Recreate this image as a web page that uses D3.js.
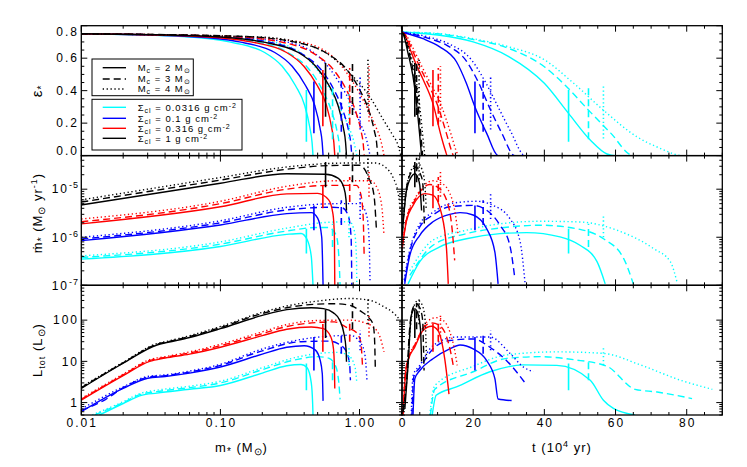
<!DOCTYPE html>
<html><head><meta charset="utf-8">
<script src="https://cdn.jsdelivr.net/npm/d3@7"></script>
<style>
body{margin:0;background:#fff;}
svg{display:block;font-family:"Liberation Sans",Arial,Helvetica,sans-serif;}
</style></head><body>
<svg id="c" width="747" height="467"></svg>
<script>
// ---------------- DATA ----------------
const sigmaValues = ["0.0316","0.1","0.316","1"];
const sigmaColors = ["#00ffff","#0000ff","#ff0000","#000000"];
const mcValues = ["2","3","4"];
const curveIds = ["C2","C3","C4","B2","B3","B4","R2","R3","R4","K2","K3","K4"];

// epsilon vs stellar mass
const epsVsMass = [
 [[0.01,.75],[0.05,.735],[0.116,.70],[0.208,.635],[0.278,.55],[0.347,.43],[0.403,.31],[0.44,.17],[0.456,.08],[0.463,0]],
 [[0.01,.75],[0.0725,.735],[0.181,.70],[0.326,.62],[0.435,.53],[0.544,.40],[0.631,.27],[0.689,.15],[0.714,.07],[0.725,0]],
 [[0.01,.75],[0.0956,.73],[0.239,.70],[0.42,.60],[0.574,.45],[0.717,.30],[0.832,.18],[0.908,.09],[0.956,0]],
 [[0.01,.75],[0.055,.735],[0.137,.70],[0.246,.635],[0.328,.55],[0.41,.43],[0.476,.31],[0.52,.17],[0.539,.08],[0.547,0]],
 [[0.01,.75],[0.088,.735],[0.22,.70],[0.396,.62],[0.528,.53],[0.66,.40],[0.766,.27],[0.836,.15],[0.867,.07],[0.88,0]],
 [[0.01,.75],[0.119,.73],[0.298,.70],[0.524,.60],[0.714,.45],[0.893,.30],[1.035,.18],[1.13,.09],[1.19,0]],
 [[0.01,.75],[0.066,.735],[0.166,.70],[0.299,.635],[0.398,.55],[0.498,.43],[0.578,.31],[0.631,.17],[0.654,.08],[0.664,0]],
 [[0.01,.75],[0.108,.735],[0.27,.70],[0.486,.62],[0.648,.53],[0.81,.40],[0.94,.27],[1.026,.15],[1.064,.07],[1.08,0]],
 [[0.01,.75],[0.15,.73],[0.375,.70],[0.66,.60],[0.90,.45],[1.125,.30],[1.305,.18],[1.425,.09],[1.5,0]],
 [[0.01,.75],[0.08,.735],[0.2,.70],[0.363,.635],[0.484,.55],[0.605,.43],[0.70,.31],[0.766,.17],[0.794,.08],[0.806,0]],
 [[0.01,.75],[0.135,.735],[0.338,.70],[0.608,.62],[0.81,.53],[1.01,.40],[1.175,.27],[1.28,.15],[1.33,.07],[1.35,0]],
 [[0.01,.75],[0.198,.73],[0.495,.66],[0.87,.50],[1.19,.36],[1.485,.22],[1.72,.13],[1.88,.07],[1.98,0]]
];

// accretion rate vs stellar mass
const mdotVsMass = [
 [[0.01,3.5e-7],[0.1,6.4e-7],[0.3,1.15e-6],[0.38,1.2e-6],[0.42,9e-7],[0.45,4e-7],[0.463,1e-7]],
 [[0.01,3.8e-7],[0.1,7.2e-7],[0.3,1.35e-6],[0.5,1.6e-6],[0.6,1.6e-6],[0.68,1.1e-6],[0.71,4e-7],[0.725,1e-7]],
 [[0.01,4.1e-7],[0.1,8e-7],[0.3,1.55e-6],[0.6,2.05e-6],[0.85,2.1e-6],[0.92,1.3e-6],[0.95,4e-7],[0.956,1e-7]],
 [[0.01,8.5e-7],[0.1,1.8e-6],[0.3,3.1e-6],[0.45,3.25e-6],[0.5,2.5e-6],[0.535,1e-6],[0.547,1e-7]],
 [[0.01,9.2e-7],[0.1,2e-6],[0.3,3.7e-6],[0.6,4.2e-6],[0.75,4.1e-6],[0.83,2.8e-6],[0.87,1e-6],[0.88,1e-7]],
 [[0.01,1e-6],[0.1,2.2e-6],[0.3,4.2e-6],[0.7,5e-6],[1.0,5e-6],[1.12,3e-6],[1.17,1e-6],[1.19,1.2e-7]],
 [[0.01,1.9e-6],[0.1,4.3e-6],[0.3,8e-6],[0.5,8.2e-6],[0.6,6e-6],[0.645,3e-6],[0.66,1e-6],[0.664,1e-7]],
 [[0.01,2.1e-6],[0.1,5e-6],[0.3,1e-5],[0.6,1.2e-5],[0.95,1.2e-5],[1.02,8e-6],[1.06,3e-6],[1.08,4e-7]],
 [[0.01,2.4e-6],[0.1,5.6e-6],[0.3,1.15e-5],[0.7,1.5e-5],[1.2,1.5e-5],[1.35,1e-5],[1.45,4e-6],[1.5,1.1e-6]],
 [[0.01,4.7e-6],[0.1,1.33e-5],[0.3,2.1e-5],[0.57,2.05e-5],[0.7,1.7e-5],[0.77,1.1e-5],[0.8,6e-6],[0.806,3.6e-6]],
 [[0.01,5.4e-6],[0.1,1.55e-5],[0.3,2.6e-5],[0.6,3.1e-5],[1.0,3.15e-5],[1.17,1.66e-5],[1.27,7.5e-6],[1.32,1.6e-6]],
 [[0.01,6e-6],[0.1,1.75e-5],[0.3,2.9e-5],[0.8,3.5e-5],[1.3,3.5e-5],[1.55,2.8e-5],[1.75,1.7e-5],[1.9,8e-6],[1.98,3e-6]]
];

// total luminosity vs stellar mass
const lumVsMass = [
 [[0.0135,0.5],[0.02,0.95],[0.027,1.5],[0.035,1.7],[0.06,2.1],[0.1,2.6],[0.2,5.2],[0.3,7.8],[0.38,8.4],[0.42,7],[0.45,3],[0.46,1.0],[0.463,0.5]],
 [[0.0125,0.5],[0.02,1.0],[0.027,1.6],[0.035,1.85],[0.06,2.3],[0.1,3.0],[0.2,6.3],[0.35,11],[0.5,13],[0.6,12],[0.67,8],[0.71,3],[0.725,1.2]],
 [[0.012,0.5],[0.02,1.05],[0.027,1.7],[0.035,2.0],[0.06,2.5],[0.1,3.3],[0.2,7],[0.35,12.5],[0.5,15.5],[0.7,16.5],[0.85,13],[0.93,7],[0.956,3]],
 [[0.01,0.6],[0.02,2.2],[0.03,3.9],[0.04,4.3],[0.06,5.2],[0.1,7.3],[0.2,15],[0.3,22],[0.4,24],[0.48,19],[0.52,11],[0.54,5],[0.547,1.1]],
 [[0.01,0.65],[0.015,1.2],[0.02,2.3],[0.03,4.1],[0.04,4.5],[0.06,5.5],[0.1,8],[0.2,18],[0.38,30],[0.6,31],[0.7,27],[0.8,18],[0.85,8],[0.86,3.5]],
 [[0.01,0.7],[0.02,2.4],[0.03,4.3],[0.04,4.7],[0.06,5.8],[0.1,8.5],[0.2,20],[0.4,35],[0.7,42],[0.86,43],[1.0,30],[1.08,18],[1.12,6],[1.13,3.5]],
 [[0.01,1.15],[0.02,4.5],[0.031,10],[0.04,12],[0.06,15],[0.1,22],[0.2,42],[0.3,60],[0.45,68],[0.55,62],[0.62,40],[0.65,20],[0.66,7],[0.664,2.2]],
 [[0.01,1.2],[0.02,4.7],[0.031,10.5],[0.04,12.5],[0.06,16],[0.1,24],[0.2,47],[0.3,70],[0.5,88],[0.66,91],[0.82,65],[0.95,50],[1.02,30],[1.05,8]],
 [[0.01,1.25],[0.02,4.9],[0.031,11],[0.04,13],[0.06,17],[0.1,26],[0.2,52],[0.3,78],[0.5,98],[0.86,100],[1.1,85],[1.25,69],[1.4,40],[1.5,17]],
 [[0.01,2.2],[0.02,9],[0.035,25],[0.042,29],[0.06,38],[0.1,62],[0.2,130],[0.3,180],[0.45,200],[0.55,190],[0.65,150],[0.72,100],[0.77,50],[0.8,20],[0.806,9.8]],
 [[0.01,2.3],[0.02,9.2],[0.035,26],[0.042,30],[0.06,40],[0.1,66],[0.2,145],[0.3,200],[0.5,245],[0.66,250],[0.85,230],[1.02,165],[1.15,120],[1.25,80],[1.28,40],[1.3,6]],
 [[0.01,2.4],[0.02,9.5],[0.035,27],[0.042,31],[0.06,42],[0.1,70],[0.2,155],[0.3,220],[0.5,290],[0.86,335],[1.2,300],[1.5,210],[1.75,150],[1.94,100],[2.02,75]]
];

// epsilon vs time (1e4 yr)
const epsVsTime = [
 [[0,.76],[10,.743],[20,.70],[30,.61],[40,.445],[46.8,.26],[52.9,.096],[57.6,.01],[60,0],[65,0]],
 [[0,.76],[10,.75],[20,.715],[30,.66],[40,.547],[46,.43],[52.4,.28],[58.6,.14],[65,0],[82,0]],
 [[0,.76],[10,.752],[20,.72],[30,.67],[40,.59],[48,.45],[56.6,.28],[66,.116],[72,.05],[79,0],[88,0]],
 [[0,.76],[5.9,.72],[10.6,.67],[15.3,.578],[18,.45],[20.5,.30],[23.8,.137],[27,0],[31,0]],
 [[0,.76],[7,.725],[12.5,.68],[18,.585],[21.5,.45],[24.5,.30],[28,.14],[31.7,0],[34.6,0]],
 [[0,.76],[7.5,.73],[13.5,.685],[19.5,.59],[23.5,.45],[27,.30],[30.5,.15],[34.6,0],[36.9,0]],
 [[0,.76],[0.8,.74],[2.2,.66],[4,.56],[5.9,.47],[8.7,.32],[11,.12],[12.2,.03],[12.7,0],[13.2,0]],
 [[0,.76],[0.9,.745],[2.5,.67],[4.5,.57],[6.7,.47],[10,.31],[12.7,.12],[13.9,.03],[14.4,0]],
 [[0,.76],[1,.745],[2.8,.675],[5,.575],[7.4,.47],[10.8,.32],[13.8,.13],[15.2,.03],[15.8,0]],
 [[0,.76],[0.5,.74],[1.7,.63],[3.1,.486],[4.2,.30],[5.0,.12],[5.5,0]],
 [[0,.76],[0.5,.745],[1.8,.65],[3.3,.50],[4.5,.31],[5.3,.13],[5.8,0]],
 [[0,.76],[0.6,.745],[2.0,.66],[3.6,.51],[4.9,.32],[5.8,.13],[6.4,0]]
];

// accretion rate vs time
const mdotVsTime = [
 [[1.7,1.07e-7],[5,3.1e-7],[10.6,6.3e-7],[18.1,9.3e-7],[27.5,1.19e-6],[35,1.25e-6],[44.4,1.02e-6],[50,6.8e-7],[54.8,3.1e-7],[57.1,1.07e-7]],
 [[2.2,1.6e-7],[8.7,6.8e-7],[18.1,1.19e-6],[27.5,1.56e-6],[38.8,1.78e-6],[50,1.46e-6],[56.6,9.3e-7],[62.3,3.6e-7],[65,1.07e-7]],
 [[2.2,2e-7],[8.7,8.7e-7],[18.1,1.4e-6],[27.5,1.9e-6],[38.8,2.15e-6],[50,2.08e-6],[60.4,1.4e-6],[70.7,5.8e-7],[75.4,3.1e-7],[77.3,1.15e-7]],
 [[0.76,1.07e-7],[2.2,4.2e-7],[5,1.1e-6],[8.7,2.1e-6],[13.4,3e-6],[16.3,3.26e-6],[20,2.9e-6],[23.8,1.5e-6],[26.1,4.9e-7],[27,1.07e-7]],
 [[0.7,1.2e-7],[2.2,5e-7],[5,1.64e-6],[8.7,2.9e-6],[13.4,4.3e-6],[20,4.6e-6],[23.8,3.65e-6],[27.5,1.8e-6],[30.3,6.8e-7],[31.7,1.4e-7]],
 [[0.6,1.3e-7],[2.2,5.5e-7],[5,1.9e-6],[8.7,3.3e-6],[13.4,5e-6],[21,5.6e-6],[25.6,4.6e-6],[30.3,2.45e-6],[33.2,8e-7],[34.6,1.07e-7]],
 [[0.05,5.8e-7],[1.2,2.1e-6],[3.1,4.6e-6],[6.4,8.1e-6],[8.7,7.5e-6],[11.1,3.1e-6],[12.5,5.8e-7],[13,1.07e-7]],
 [[0.05,6.5e-7],[1.3,2.4e-6],[3.4,5.5e-6],[7.8,1.25e-5],[10,1.1e-5],[12.5,6e-6],[14.2,1.2e-6],[14.8,3.3e-7]],
 [[0.05,7e-7],[1.4,2.7e-6],[3.7,6.5e-6],[8.7,1.5e-5],[11,1.35e-5],[13.5,8e-6],[15,3e-6],[15.8,1.1e-6]],
 [[0.05,1.1e-6],[1.2,8.8e-6],[2.6,1.8e-5],[3.6,2.1e-5],[4.5,1.7e-5],[5,1.2e-5],[5.5,3.6e-6]],
 [[0.05,1.2e-6],[1.3,1.1e-5],[2.8,2.4e-5],[4.0,2.9e-5],[5,2.2e-5],[5.8,1.4e-5],[6.1,5e-6],[6.3,1.6e-6]],
 [[0.05,1.3e-6],[1.4,1.2e-5],[3,2.8e-5],[4.5,3.4e-5],[5.6,2.6e-5],[6.4,1.3e-5],[6.8,4e-6]]
];

// total luminosity vs time
const lumVsTime = [
 [[8.5,0.5],[9.6,1.5],[15.3,2.4],[24.7,5.6],[34.1,8.2],[43.5,8.0],[52.9,3.5],[56.6,1.14],[59.4,0.72],[65.5,0.5]],
 [[8.0,0.5],[9.2,2.1],[20,5.6],[29.4,11.8],[38.8,13],[48.2,11],[57.6,7.6],[65.5,2.1],[71.7,1.8],[81.5,1.25]],
 [[7.8,0.5],[9.2,2.6],[20,7.6],[29.4,14.3],[43.5,17],[56.6,15.6],[67,8.2],[78.2,3.5],[87.2,2.1]],
 [[3.1,0.5],[3.6,3.8],[5,6],[8.7,11.6],[13.4,20],[16.3,25],[20,20],[23.8,10.4],[26.1,3.8],[27,1.22],[30.8,1.12]],
 [[2.8,0.5],[3.3,4.2],[5,7],[8.7,20],[13.4,32],[20,35],[24.7,22],[29.4,10.4],[34.6,3.0]],
 [[2.6,0.5],[3.1,4.5],[5,8],[8.7,24],[15.3,39],[24.7,39],[30.3,15.8],[34.1,7.3],[36.9,5.6]],
 [[0.3,0.5],[1.0,5],[1.7,10.4],[3.6,22.5],[5.9,56],[8.3,71],[10.1,56],[12,11.6],[13.2,1.6]],
 [[0.3,0.55],[1.0,5.5],[1.8,11.5],[3.8,27],[6.3,70],[8.5,85],[10.5,75],[12.5,40],[13.8,15],[14.4,8]],
 [[0.3,0.6],[1.0,6],[1.9,12.5],[4,30],[7,90],[9.5,115],[11.5,100],[13.5,50],[15,15],[15.5,8]],
 [[0.8,0.7],[1.7,8],[2.6,130],[3.6,188],[4.5,142],[5.2,60],[5.5,10]],
 [[0.3,0.6],[1.3,3.5],[2.1,55],[3.0,190],[4.0,250],[5,200],[5.8,100],[6.0,30],[6.2,6]],
 [[0.3,0.65],[1.4,4],[2.3,60],[3.3,210],[4.5,300],[5.5,250],[6.4,120],[6.7,40],[6.9,10]]
];

// vertical markers (same event in mass and time)
const markMass = [0.415,0.64,0.84, 0.47,0.74,1.01, 0.545,0.85,1.17, 0.57,0.89,1.15];
const markTime = [46.8,52.4,56.6, 20.5,22.8,24.9, 8.7,10.2,10.8, 3.6,4.1,4.8];
const markEps  = [[.085,.404],[.10,.42],[.105,.425],[.137,.457],[.147,.467],[.16,.485],[.18,.527],[.19,.54],[.21,.55],[.24,.57],[.25,.58],[.27,.59]];
const markMdot = [[4.6e-7,1.5e-6],[6.3e-7,1.9e-6],[1.0e-6,3.1e-6],[1.4e-6,4.6e-6],[1.8e-6,5.9e-6],[2.4e-6,8.8e-6],[4e-6,1.2e-5],[5.4e-6,1.8e-5],[7e-6,2.4e-5],[1.1e-5,3.7e-5],[1.4e-5,4.5e-5],[1.6e-5,5e-5]];
const markLum  = [[2.0,8.9],[3.5,11.8],[8.1,22.6],[6,39],[15.4,43],[18.5,56],[17,81],[30,100],[40,130],[37,175],[60,260],[80,330]];

// tick labels
const massTickVals = [0.01,0.1,1];
const massTickLabels = ["0.01","0.10","1.00"];
const timeTickVals = [0,20,40,60,80];
const timeTickLabels = ["0","20","40","60","80"];
const epsTickVals = [0,0.2,0.4,0.6,0.8];
const epsTickLabels = ["0.0","0.2","0.4","0.6","0.8"];
const mdotTickVals = [1e-7,1e-6,1e-5];
const mdotTickExps = ["-7","-6","-5"];
const lumTickVals = [1,10,100];
const lumTickLabels = ["1","10","100"];

// ---------------- LAYOUT ----------------
const svg = d3.select("#c");
const X0 = 81.3, XM = 402, X1 = 722.3;
const rows = [[25.7,155.6],[155.6,285.3],[285.3,415]];
const xMass = d3.scaleLog().domain([0.01,2.02]).range([X0,XM]);
const xTime = d3.scaleLinear().domain([0,90]).range([XM,X1]);
const yEps = d3.scaleLinear().domain([0,0.8]).range([rows[0][1],rows[0][0]]);
const yMdot = d3.scaleLog().domain([1e-7,5e-5]).range([rows[1][1],rows[1][0]]);
const yLum = d3.scaleLog().domain([0.5,700]).range([rows[2][1],rows[2][0]]);

const dashFor = ["none","7,4","1.3,2.6"];

function minorLog(lo, hi){
  const out=[];
  for(let e=-8;e<=3;e++) for(let k=2;k<=9;k++){const v=k*Math.pow(10,e); if(v>=lo*0.999 && v<=hi*1.001) out.push(v);}
  return out;
}
const xMassMinor = minorLog(0.01,2.02);
const xTimeMinor = d3.range(0,91,5).filter(v=>v%20!==0);
const epsMinor = d3.range(0,0.801,0.05).filter(v=>Math.abs(v/0.2-Math.round(v/0.2))>1e-6);
const mdotMinor = minorLog(1e-7,5e-5);
const lumMinor = minorLog(0.5,700);

const panels = [
  {x:xMass,y:yEps,data:epsVsMass,mx:markMass,my:markEps,xr:[X0,XM],yr:rows[0],xmaj:massTickVals,xmin:xMassMinor,ymaj:epsTickVals,ymin:epsMinor},
  {x:xTime,y:yEps,data:epsVsTime,mx:markTime,my:markEps,xr:[XM,X1],yr:rows[0],xmaj:timeTickVals,xmin:xTimeMinor,ymaj:epsTickVals,ymin:epsMinor},
  {x:xMass,y:yMdot,data:mdotVsMass,mx:markMass,my:markMdot,xr:[X0,XM],yr:rows[1],xmaj:massTickVals,xmin:xMassMinor,ymaj:mdotTickVals,ymin:mdotMinor},
  {x:xTime,y:yMdot,data:mdotVsTime,mx:markTime,my:markMdot,xr:[XM,X1],yr:rows[1],xmaj:timeTickVals,xmin:xTimeMinor,ymaj:mdotTickVals,ymin:mdotMinor},
  {x:xMass,y:yLum,data:lumVsMass,mx:markMass,my:markLum,xr:[X0,XM],yr:rows[2],xmaj:massTickVals,xmin:xMassMinor,ymaj:lumTickVals,ymin:lumMinor},
  {x:xTime,y:yLum,data:lumVsTime,mx:markTime,my:markLum,xr:[XM,X1],yr:rows[2],xmaj:timeTickVals,xmin:xTimeMinor,ymaj:lumTickVals,ymin:lumMinor}
];

const defs = svg.append("defs");
panels.forEach((p,pi)=>{
  defs.append("clipPath").attr("id","clip"+pi).append("rect")
    .attr("x",p.xr[0]).attr("y",p.yr[0]).attr("width",p.xr[1]-p.xr[0]).attr("height",p.yr[1]-p.yr[0]);
  const g = svg.append("g").attr("clip-path","url(#clip"+pi+")");
  const line = d3.line().x(d=>p.x(d[0])).y(d=>p.y(d[1])).curve(d3.curveMonotoneX);
  p.data.forEach((pts,i)=>{
    const s = Math.floor(i/3), k = i%3;
    g.append("path").attr("d",line(pts)).attr("fill","none")
      .attr("stroke",sigmaColors[s]).attr("stroke-width",1.4)
      .attr("stroke-dasharray",dashFor[k]);
  });
  p.mx.forEach((mv,i)=>{
    const s = Math.floor(i/3), k = i%3;
    g.append("line").attr("x1",p.x(mv)).attr("x2",p.x(mv))
      .attr("y1",p.y(p.my[i][0])).attr("y2",p.y(p.my[i][1]))
      .attr("stroke",sigmaColors[s]).attr("stroke-width",1.6)
      .attr("stroke-dasharray",dashFor[k]);
  });
  // ticks (inward on all four sides)
  const t = svg.append("g").attr("stroke","#000").attr("stroke-width",1);
  const [xa,xb]=p.xr, [ya,yb]=p.yr;
  const tick=(x1,y1,x2,y2)=>t.append("line").attr("x1",x1).attr("y1",y1).attr("x2",x2).attr("y2",y2);
  p.xmaj.forEach(v=>{const X=p.x(v); tick(X,yb,X,yb-6); tick(X,ya,X,ya+6);});
  p.xmin.forEach(v=>{const X=p.x(v); tick(X,yb,X,yb-3); tick(X,ya,X,ya+3);});
  p.ymaj.forEach(v=>{const Y=p.y(v); tick(xa,Y,xa+6,Y); tick(xb,Y,xb-6,Y);});
  p.ymin.forEach(v=>{const Y=p.y(v); tick(xa,Y,xa+3,Y); tick(xb,Y,xb-3,Y);});
  svg.append("rect").attr("x",xa).attr("y",ya).attr("width",xb-xa).attr("height",yb-ya)
    .attr("fill","none").attr("stroke","#000").attr("stroke-width",1.3);
});

// ---------------- TICK LABELS ----------------
const lab = svg.append("g").attr("font-size",12).attr("fill","#000").style("letter-spacing","2px");
epsTickVals.forEach((v,i)=>{
  let y = yEps(v);
  y = Math.max(rows[0][0]+5.5, Math.min(rows[0][1]-4.5, y));
  lab.append("text").attr("x",79).attr("y",y+4.3).attr("text-anchor","end").text(epsTickLabels[i]);
});
mdotTickVals.forEach((v,i)=>{
  const tx = lab.append("text").attr("x",79).attr("y",yMdot(v)+4.3).attr("text-anchor","end");
  tx.append("tspan").text("10");
  tx.append("tspan").attr("dy",-5).attr("font-size",9).style("letter-spacing","1px").text(mdotTickExps[i]);
});
lumTickVals.forEach((v,i)=>{
  lab.append("text").attr("x",79).attr("y",yLum(v)+4.3).attr("text-anchor","end").text(lumTickLabels[i]);
});
massTickVals.forEach((v,i)=>{
  lab.append("text").attr("x",xMass(v)+1).attr("y",427).attr("text-anchor","middle").text(massTickLabels[i]);
});
timeTickVals.forEach((v,i)=>{
  lab.append("text").attr("x",xTime(v)+1).attr("y",427).attr("text-anchor","middle").text(timeTickLabels[i]);
});

// ---------------- AXIS TITLES ----------------
const ttl = svg.append("g").attr("font-size",13).attr("fill","#000").style("letter-spacing","1px");
{
  const t = ttl.append("text").attr("text-anchor","middle").attr("x",241.5).attr("y",452);
  t.append("tspan").text("m");
  t.append("tspan").attr("dy",3).attr("font-size",10).text("*");
  t.append("tspan").attr("dy",-3).text(" (M");
  t.append("tspan").attr("dy",3).attr("font-size",10).text("⊙");
  t.append("tspan").attr("dy",-3).text(")");
}
{
  const t = ttl.append("text").attr("text-anchor","middle").attr("x",562).attr("y",452);
  t.append("tspan").text("t (10");
  t.append("tspan").attr("dy",-5).attr("font-size",9).text("4");
  t.append("tspan").attr("dy",5).text(" yr)");
}
{
  const t = ttl.append("text").attr("text-anchor","middle").attr("transform","translate(42,91) rotate(-90)");
  t.append("tspan").attr("font-size",15).text("ε");
  t.append("tspan").attr("dy",3).attr("font-size",10).text("*");
}
{
  const t = ttl.append("text").attr("text-anchor","middle").attr("transform","translate(42,213) rotate(-90)");
  t.append("tspan").text("ṁ");
  t.append("tspan").attr("dy",3).attr("font-size",10).text("*");
  t.append("tspan").attr("dy",-3).text(" (M");
  t.append("tspan").attr("dy",3).attr("font-size",10).text("⊙");
  t.append("tspan").attr("dy",-3).text(" yr");
  t.append("tspan").attr("dy",-5).attr("font-size",9).text("-1");
  t.append("tspan").attr("dy",5).text(")");
}
{
  const t = ttl.append("text").attr("text-anchor","middle").attr("transform","translate(42,350) rotate(-90)");
  t.append("tspan").text("L");
  t.append("tspan").attr("dy",3).attr("font-size",9).text("tot");
  t.append("tspan").attr("dy",-3).text(" (L");
  t.append("tspan").attr("dy",3).attr("font-size",10).text("⊙");
  t.append("tspan").attr("dy",-3).text(")");
}

// ---------------- LEGENDS ----------------
const leg = svg.append("g");
leg.append("rect").attr("x",92).attr("y",59).attr("width",101.3).attr("height",36.7)
  .attr("fill","#fff").attr("stroke","#000").attr("stroke-width",1);
leg.append("rect").attr("x",92).attr("y",99.3).attr("width",150).attr("height",50.7)
  .attr("fill","#fff").attr("stroke","#000").attr("stroke-width",1);
const legTxt = leg.append("g").attr("font-size",9.5).attr("fill","#000").style("letter-spacing","1px");
const mcY = [67.7,79,89];
mcValues.forEach((mc,k)=>{
  leg.append("line").attr("x1",102.7).attr("x2",126).attr("y1",mcY[k]).attr("y2",mcY[k])
    .attr("stroke","#000").attr("stroke-width",1.4).attr("stroke-dasharray",dashFor[k]);
  const t = legTxt.append("text").attr("x",137.7).attr("y",mcY[k]+3.4);
  t.append("tspan").text("M");
  t.append("tspan").attr("dy",2).attr("font-size",7).text("c");
  t.append("tspan").attr("dy",-2).text(" = "+mc+" M");
  t.append("tspan").attr("dy",2).attr("font-size",7).text("⊙");
});
const sgY = [107.3,118.3,128.3,138.3];
sigmaValues.forEach((sv,s)=>{
  leg.append("line").attr("x1",102.7).attr("x2",126).attr("y1",sgY[s]).attr("y2",sgY[s])
    .attr("stroke",sigmaColors[s]).attr("stroke-width",1.4);
  const t = legTxt.append("text").attr("x",137.7).attr("y",sgY[s]+3.4);
  t.append("tspan").text("Σ");
  t.append("tspan").attr("dy",2).attr("font-size",7).text("cl");
  t.append("tspan").attr("dy",-2).text(" = "+sv+" g cm");
  t.append("tspan").attr("dy",-3).attr("font-size",7).text("-2");
});
</script>
</body></html>
